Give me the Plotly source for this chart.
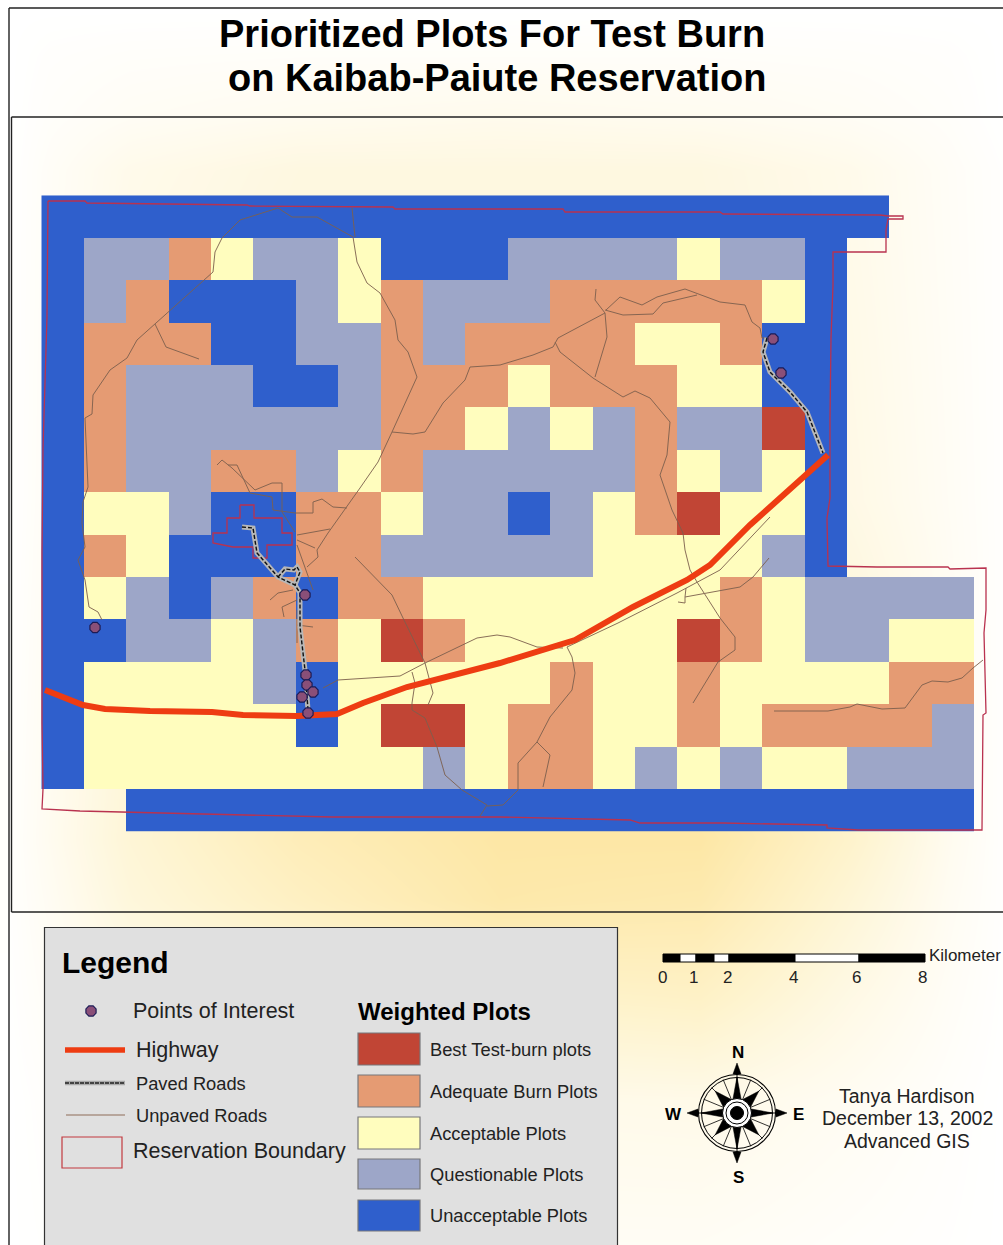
import numpy as np
import plotly.graph_objects as go

# ---------- data ----------
PLOT_ROWS = [
    "UUUUUUUUUUUUUUUUUUUU..",
    "UQQDAQQAUUUQQQQAQQU...",
    "UQDUUUQADQQQDDDDDAU...",
    "UDDDUUQQDQDDDDAADUU...",
    "UDQQQUUQDDDADDDAAUU...",
    "UDQQQQQQDDAQAQDQQBU...",
    "UDQQDDQADQQQQQDAQAU...",
    "UAAQUUDDAQQUQADBAAU...",
    "UDAUUUDDQQQQQAAAAQU...",
    "UAQUQDUDDAAAAAAADAQQQQ",
    "UUQQAQDABDAAAAABDAQQAA",
    "UAAAAQUAAAAADAADAAAADD",
    "UAAAAAUABBADDAADADDDDQ",
    "UAAAAAAAAQADDAQAQAAQQQ",
    "..UUUUUUUUUUUUUUUUUUUU",
]
CLASS_CODES = {"U": 0, "Q": 1, "A": 2, "D": 3, "B": 4}
CLASS_NAMES = ["Best Test-burn plots", "Adequate Burn Plots", "Acceptable Plots",
               "Questionable Plots", "Unacceptable Plots"]
CLASS_COLORS = ["#2F5FCC", "#9DA6C8", "#FFFDBE", "#E59B73", "#C14535"]

POI_X = [95, 773, 781, 305, 306, 307, 313, 302, 308]
POI_Y = [627.5, 339, 373, 595, 675, 685, 692, 697, 713]

HIGHWAY = [(45, 690), (83, 705), (105, 709), (150, 711), (212, 712), (243, 715), (297, 716), (337, 714),
           (363, 703), (407, 687), (500, 663), (543, 650), (575, 640), (633, 607), (687, 580), (710, 565),
           (750, 525), (828, 455)]

PAVED = [
    [(242, 527), (253, 528), (257, 553), (278, 577), (295, 585), (300, 593), (300, 627), (305, 670), (308, 710)],
    [(278, 577), (285, 569), (294, 570), (297, 567), (300, 572), (295, 585)],
    [(767, 338), (763, 352), (770, 372), (790, 392), (807, 412), (823, 453)],
]

UNPAVED = [
    [(102, 620), (98, 612), (89, 607), (85, 580), (78, 560), (85, 547), (82, 523), (83, 502), (88, 487), (85, 418),
     (92, 414), (93, 395), (110, 370), (127, 358), (137, 340), (155, 324), (213, 272), (215, 252), (222, 238),
     (240, 220), (263, 213), (278, 208), (292, 217), (317, 217), (353, 237), (357, 262), (367, 283), (380, 293),
     (395, 320), (398, 340), (408, 352), (417, 377), (392, 432), (378, 462), (360, 488), (328, 533), (317, 550),
     (318, 557), (307, 567)],
    [(352, 208), (355, 237)],
    [(155, 324), (166, 347), (199, 359)],
    [(392, 432), (413, 434), (425, 432), (443, 403), (465, 380), (470, 367), (500, 365), (533, 355), (553, 347),
     (558, 338), (605, 313), (595, 300), (596, 289)],
    [(605, 313), (607, 337), (595, 377)],
    [(555, 342), (560, 352), (593, 378), (623, 397), (635, 391), (650, 398), (670, 422), (667, 455), (660, 475),
     (672, 510), (683, 533), (685, 550), (690, 570), (697, 582), (720, 618), (735, 637), (735, 650), (718, 662),
     (693, 703)],
    [(605, 310), (623, 315), (653, 314), (663, 303), (697, 295)],
    [(606, 310), (620, 297), (642, 305), (657, 297), (685, 289), (720, 302), (745, 305), (752, 322), (760, 328),
     (762, 338), (767, 338)],
    [(217, 465), (222, 460), (232, 468), (255, 490), (272, 483), (282, 483), (282, 512), (295, 532)],
    [(228, 465), (237, 465), (250, 493), (272, 497), (273, 510), (295, 513), (313, 513), (313, 502), (322, 499),
     (333, 507), (347, 508)],
    [(297, 535), (330, 529)],
    [(297, 540), (315, 548)],
    [(297, 545), (313, 590)],
    [(355, 557), (392, 595), (403, 618), (425, 663), (433, 693), (428, 705)],
    [(412, 672), (415, 683), (412, 703), (412, 710), (425, 718), (437, 747), (445, 775), (462, 790), (487, 805),
     (480, 816)],
    [(487, 806), (503, 805), (518, 790), (518, 763), (537, 742), (550, 755), (543, 787)],
    [(537, 742), (550, 717), (572, 690), (575, 673), (572, 657), (567, 647)],
    [(323, 688), (338, 680), (400, 676), (425, 663), (477, 638), (497, 635), (510, 637), (537, 647), (563, 648)],
    [(567, 647), (618, 623), (677, 593), (720, 570), (770, 517)],
    [(678, 602), (685, 603), (685, 597), (713, 592), (740, 587), (753, 577), (769, 558)],
    [(685, 597), (686, 588)],
    [(774, 711), (828, 711), (850, 707), (857, 704), (882, 709), (905, 708), (922, 685), (932, 681), (948, 682),
     (962, 678), (973, 668), (983, 660)],
    [(270, 600), (278, 593), (293, 590)],
    [(284, 617), (282, 607), (297, 600)],
    [(313, 627), (297, 625)],
    [(297, 610), (297, 643)],
]

BOUNDARY = [
    [(48, 201), (85, 201), (87, 203), (247, 205), (250, 206), (393, 207), (395, 209), (563, 209), (565, 212),
     (720, 212), (723, 214), (880, 215), (888, 216), (903, 216), (903, 219), (888, 219), (886, 230), (886, 252),
     (833, 252), (833, 285), (831, 338), (830, 418), (830, 498), (827, 518), (828, 566), (877, 567), (948, 567),
     (950, 569), (986, 568), (986, 610), (984, 633), (986, 713), (983, 715), (982, 830), (858, 830), (827, 828),
     (827, 825), (723, 823), (640, 823), (630, 820), (500, 817), (332, 817), (203, 814), (80, 811), (42, 809),
     (43, 789), (42, 723), (42, 553), (43, 448), (47, 317), (48, 201)],
    [(240, 505), (254, 505), (254, 518), (282, 518), (282, 533), (292, 533), (292, 545), (267, 545), (267, 558),
     (253, 558), (253, 547), (233, 547), (213, 543), (213, 533), (227, 533), (227, 518), (240, 518), (240, 505)],
]

BG_X = [9, 50, 130, 300, 500, 700, 850, 950, 1003]
BG_Y = [9, 55, 117, 170, 500, 840, 900, 1000, 1100, 1245]
BG_T = [
    [0, 0, 0, 0, 0, 0, 0, 0, 0],
    [0, .03, .05, .06, .06, .06, .05, .03, 0],
    [0, .05, .10, .15, .18, .15, .10, .05, 0],
    [0, .08, .20, .30, .30, .30, .20, .08, .02],
    [0, .10, .30, .40, .40, .35, .25, .10, .02],
    [.02, .15, .40, .70, .90, .90, .50, .15, .02],
    [.02, .12, .35, .60, .85, .80, .40, .12, .02],
    [.01, .08, .20, .30, .50, .55, .25, .08, .01],
    [0, .04, .10, .15, .20, .22, .12, .04, 0],
    [0, .02, .05, .08, .10, .10, .05, .02, 0],
]

SCALE_EDGES = [663, 680, 696, 714, 729, 795, 859, 925]
SCALE_LABELS = ["0", "1", "2", "4", "6", "8"]
SCALE_LABEL_X = [662, 693, 727, 793, 856, 922]

LEFT_LEGEND = ["Points of Interest", "Highway", "Paved Roads", "Unpaved Roads", "Reservation Boundary"]
LEFT_LEGEND_X = [133, 136, 136, 136, 133]
LEFT_LEGEND_Y = [1011, 1050, 1083, 1115, 1151]
SWATCH_TOPS = [1033, 1075, 1117, 1159, 1200]
SWATCH_BOTTOMS = [1065, 1107, 1149, 1189, 1231]
SWATCH_KEYS = [4, 3, 2, 1, 0]
CREDITS = ["Tanya Hardison", "December 13, 2002", "Advanced GIS"]
CREDIT_Y = [1096, 1118, 1141]

RED_LINE = "#B9324F"
FONT = "Liberation Sans"
W, H = 1003, 1245

z = [[CLASS_CODES.get(c, np.nan) for c in row] for row in PLOT_ROWS]


def split(paths):
    xs, ys = [], []
    for p in paths:
        xs += [a for a, _ in p] + [None]
        ys += [b for _, b in p] + [None]
    return xs, ys


fig = go.Figure()

# soft page background
fig.add_trace(go.Heatmap(x=BG_X, y=BG_Y, z=BG_T, zmin=0, zmax=1, zsmooth="best", showscale=False,
                         colorscale=[[0, "#FFFFFF"], [.5, "#FEF3CC"], [1, "#FDE49C"]],
                         hoverinfo="skip", xaxis="x", yaxis="y"))

# plot grid
n = len(CLASS_COLORS)
scale = []
for i, c in enumerate(CLASS_COLORS):
    scale += [[i / n, c], [(i + 1) / n, c]]
fig.add_trace(go.Heatmap(x=np.arange(22) + .5, y=np.arange(15) + .5, z=z, zmin=-.5, zmax=4.5,
                         colorscale=scale, showscale=False, hoverinfo="skip", xaxis="x2", yaxis="y2"))


def line(paths, color, width, dash=None, opacity=1):
    xs, ys = split(paths)
    fig.add_trace(go.Scatter(x=xs, y=ys, mode="lines", xaxis="x3", yaxis="y3", opacity=opacity, hoverinfo="skip",
                             line=dict(color=color, width=width, dash=dash), showlegend=False))


line(BOUNDARY, RED_LINE, 1.3)
line(UNPAVED, "#7D604E", 1, opacity=.9)
line(PAVED, "#B7B7B7", 5)
line(PAVED, "#111111", 1.4, dash="4px,2px")
line([HIGHWAY], "#EE3C12", 6)

fig.add_trace(go.Scatter(x=POI_X + [91], y=POI_Y + [1011], mode="markers", xaxis="x3", yaxis="y3", hoverinfo="skip",
                         marker=dict(size=11, color="#8A4F78", symbol="octagon",
                                     line=dict(color="#1B1B55", width=1.2)), showlegend=False))

shapes = []


def rect(x0, y0, x1, y1, fill=None, color=None, width=1, layer="above"):
    shapes.append(dict(type="rect", xref="x3", yref="y3", x0=x0, y0=y0, x1=x1, y1=y1, layer=layer,
                       fillcolor=fill if fill else "rgba(0,0,0,0)",
                       line=dict(color=color, width=width) if color else dict(width=0)))


def seg(x0, y0, x1, y1, color="#222222", width=1.4, dash=None):
    shapes.append(dict(type="line", xref="x3", yref="y3", x0=x0, y0=y0, x1=x1, y1=y1,
                       line=dict(color=color, width=width, dash=dash), layer="above"))


# frames
seg(9, 8, 1003, 8)
seg(9, 8, 9, 1245)
seg(11.5, 117, 1003, 117)
seg(11.5, 117, 11.5, 912)
seg(11.5, 912, 1003, 912)

# legend panel (below the marks layer so the sample marks sit on top)
rect(44.5, 927.5, 617.5, 1250, fill="#E0E0E0", color="#333333", width=1.2, layer="below")
fig.add_trace(go.Scatter(x=[65, 125], y=[1050, 1050], mode="lines", xaxis="x3", yaxis="y3", hoverinfo="skip",
                         line=dict(color="#EE3C12", width=5.5), showlegend=False))
line([[(65, 1083), (125, 1083)]], "#A9A9A9", 4.5)
line([[(65, 1083), (125, 1083)]], "#222222", 1.4, dash="4px,1px")
line([[(66, 1115), (125, 1115)]], "#8E6C58", 1)
rect(62, 1137, 122, 1168, color="#C2393F", width=1.2)
for top, bot, k in zip(SWATCH_TOPS, SWATCH_BOTTOMS, SWATCH_KEYS):
    rect(358, top, 420, bot, fill=CLASS_COLORS[k], color="#77777A", width=1.2)

# scale bar
for i in range(len(SCALE_EDGES) - 1):
    rect(SCALE_EDGES[i], 954, SCALE_EDGES[i + 1], 962, fill="#000000" if i % 2 == 0 else "#FFFFFF",
         color="#000000", width=1)

# compass rose
cx, cy = 737, 1113


def poly(pts, fill="#000000"):
    path = "M" + " L".join(f"{cx + a:.1f},{cy + b:.1f}" for a, b in pts) + " Z"
    shapes.append(dict(type="path", xref="x3", yref="y3", path=path, fillcolor=fill, line=dict(width=.5, color="#000"),
                       layer="above"))


def circle(r, width=1, fill=None):
    shapes.append(dict(type="circle", xref="x3", yref="y3", x0=cx - r, x1=cx + r, y0=cy - r, y1=cy + r, layer="above",
                       fillcolor=fill if fill else "rgba(0,0,0,0)", line=dict(color="#000000", width=width)))


for k in range(16):
    a = k * np.pi / 8
    seg(cx + 13 * np.cos(a), cy + 13 * np.sin(a), cx + 36 * np.cos(a), cy + 36 * np.sin(a), "#000000", .8)
circle(38.5, 1.1)
circle(35.5, 1)
for k in range(8):
    a = k * np.pi / 4
    long_arm = k % 2 == 0
    r = 36 if long_arm else 31
    b = 5 if long_arm else 7
    c, s = np.cos(a), np.sin(a)
    poly([(r * c, r * s), (-s * b + 9 * c, c * b + 9 * s), (s * b + 9 * c, -c * b + 9 * s)])
    if long_arm:
        seg(cx + 30 * c, cy + 30 * s, cx + 42 * c, cy + 42 * s, "#000000", 1)
        poly([(50 * c, 50 * s), (-s * 4 + 39 * c, c * 4 + 39 * s), (s * 4 + 39 * c, -c * 4 + 39 * s)])
circle(14.5, 1, "#FFFFFF")
circle(11, 1)
circle(6.5, 1, "#000000")

anns = []


def text(x, y, s, size, bold=False, anchor="left", color="#222222"):
    anns.append(dict(x=x, y=y, xref="x3", yref="y3", text=f"<b>{s}</b>" if bold else s, showarrow=False, xanchor=anchor,
                     yanchor="middle", font=dict(family=FONT, size=size, color=color), borderpad=0, borderwidth=0))


text(492, 34, "Prioritized Plots For Test Burn", 38, True, "center", "#000000")
text(497, 78, "on Kaibab-Paiute Reservation", 38, True, "center", "#000000")
text(62, 962, "Legend", 30, True, color="#000000")
text(358, 1011, "Weighted Plots", 24, True, color="#000000")
for s, x, y in zip(LEFT_LEGEND, LEFT_LEGEND_X, LEFT_LEGEND_Y):
    text(x, y, s, 21.5 if y in (1011, 1050, 1151) else 18.3)
for k, top, bot in zip(SWATCH_KEYS, SWATCH_TOPS, SWATCH_BOTTOMS):
    text(430, (top + bot) / 2, CLASS_NAMES[4 - k], 18.3)
for s, x in zip(SCALE_LABELS, SCALE_LABEL_X):
    text(x, 977, s, 17, anchor="center")
text(929, 955, "Kilometer", 17)
text(738, 1052, "N", 17, True, "center", "#000000")
text(738, 1177, "S", 17, True, "center", "#000000")
text(673, 1114, "W", 17, True, "center", "#000000")
text(798, 1114, "E", 17, True, "center", "#000000")
for s, y in zip(CREDITS, CREDIT_Y):
    text(907, y, s, 19.5, anchor="center")

hidden = dict(visible=False, fixedrange=True)
fig.update_layout(
    width=W, height=H, margin=dict(l=0, r=0, t=0, b=0), autosize=False, showlegend=False,
    paper_bgcolor="#FFFFFF", plot_bgcolor="rgba(0,0,0,0)", shapes=shapes, annotations=anns,
    xaxis=dict(range=[0, W], domain=[0, 1], **hidden),
    yaxis=dict(range=[H, 0], domain=[0, 1], **hidden),
    xaxis2=dict(range=[0, 22], domain=[41.3 / W, 974 / W], anchor="y2", **hidden),
    yaxis2=dict(range=[15, 0], domain=[1 - 831.7 / H, 1 - 195.3 / H], anchor="x2", **hidden),
    xaxis3=dict(range=[0, W], domain=[0, 1], anchor="y3", **hidden),
    yaxis3=dict(range=[H, 0], domain=[0, 1], anchor="x3", **hidden),
)

fig.write_html("out.html", config={"displayModeBar": False},
               post_script="document.body.style.margin='0';document.body.style.overflow='hidden';")
